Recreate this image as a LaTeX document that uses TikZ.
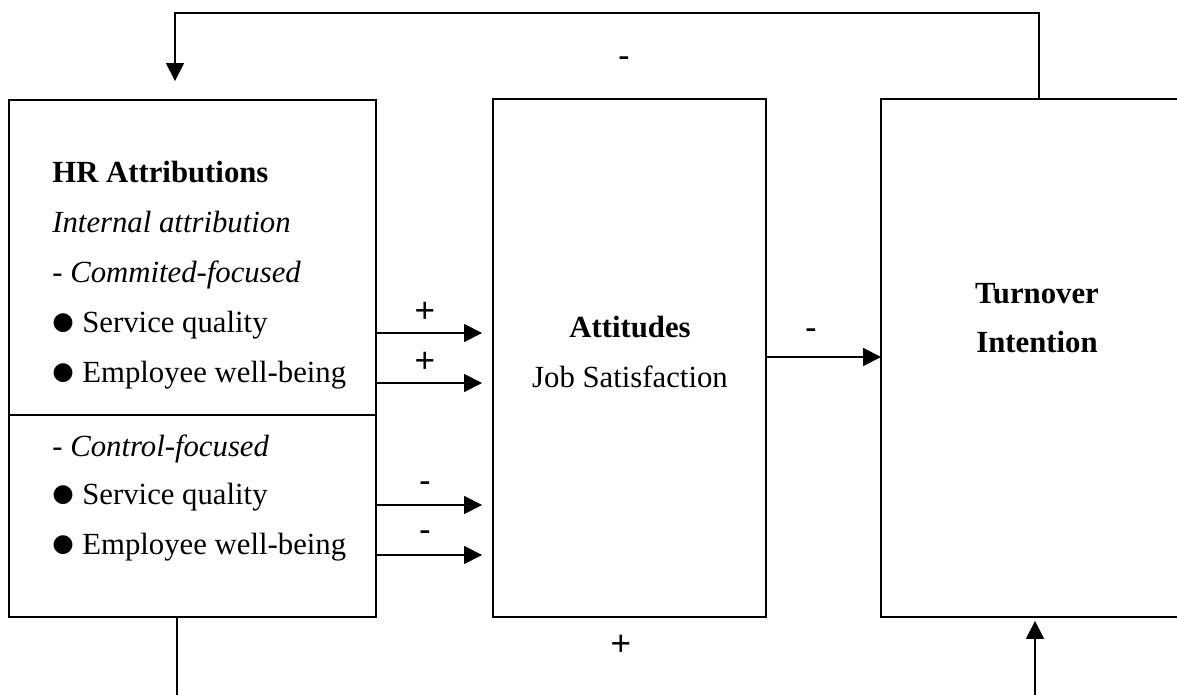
\documentclass[tikz,border=0pt]{standalone}
\usepackage{fontspec}
\setmainfont{Liberation Serif}
\newfontfamily\signfont{Liberation Sans}
\newfontfamily\dotfont{DejaVu Sans}
\usetikzlibrary{arrows.meta}
\newcommand{\boxsize}{\fontsize{17.5}{21}\selectfont}
\newcommand{\blob}{\makebox[0.6cm][l]{\raisebox{1.8pt}{\dotfont\fontsize{14}{14}\selectfont ●}}}

\begin{document}
\begin{tikzpicture}
	[x=0.02cm, y=-0.02cm,
	box/.style={draw, line width=1pt, rectangle, inner sep=0pt, outer sep=0pt},
	txt/.style={anchor=base west, inner sep=0pt, font=\boxsize},
	ctxt/.style={txt, anchor=base},
	sign/.style={inner sep=0pt, font=\signfont\fontsize{20}{20}\selectfont},
	link/.style={line width=1pt, -{Triangle[length=0.36cm, width=0.36cm]}}]
	\useasboundingbox (0,0) rectangle (1177,695);

	% boxes
	\node[box, minimum width=7.34cm, minimum height=6.30cm] (hrtop) at (192.5,257.5) {};
	\node[box, minimum width=7.34cm, minimum height=4.04cm] (hrbot) at (192.5,516) {};
	\node[box, minimum width=5.46cm, minimum height=10.36cm] (att) at (629.5,358) {};
	\node[box, minimum width=6.24cm, minimum height=10.36cm] (turn) at (1037,358) {};

	% left box text
	\node[txt, font=\boxsize\bfseries] (hrtitle) at (52,183) {HR Attributions};
	\node[txt, font=\boxsize\itshape] (internal) at (52,233) {Internal attribution};
	\node[txt, font=\boxsize\itshape] (commit) at (52,283) {- Commited-focused};
	\node[txt] (sq1) at (52,333) {\blob Service quality};
	\node[txt] (wb1) at (52,383) {\blob Employee well-being};
	\node[txt, font=\boxsize\itshape] (control) at (52,457) {- Control-focused};
	\node[txt] (sq2) at (52,505) {\blob Service quality};
	\node[txt] (wb2) at (52,555) {\blob Employee well-being};

	% middle and right text
	\node[ctxt, font=\boxsize\bfseries] (atttitle) at (630,338) {Attitudes};
	\node[ctxt] (jobsat) at (630,388) {Job Satisfaction};
	\node[ctxt, font=\boxsize\bfseries] (turntitle) at (1037,304) {Turnover};
	\node[ctxt, font=\boxsize\bfseries] (intent) at (1037,353) {Intention};

	% signs
	\node[sign] (p1) at (425,312) {+};
	\node[sign] (p2) at (425,362) {+};
	\node[sign] (m1) at (425,487) {-};
	\node[sign] (m2) at (425,536) {-};
	\node[sign] (m3) at (811,334) {-};
	\node[sign] (mtop) at (624,62) {-};
	\node[sign] (pbot) at (621,645) {+};

	\coordinate (lowleft) at (177,740);

	\draw[link, shorten >=0.22cm] (sq1.base -| hrtop.east) -- (sq1.base -| att.west);
	\draw[link, shorten >=0.22cm] (wb1.base -| hrtop.east) -- (wb1.base -| att.west);
	\draw[link, shorten >=0.22cm] (sq2.base -| hrbot.east) -- (sq2.base -| att.west);
	\draw[link, shorten >=0.22cm] (wb2.base -| hrbot.east) -- (wb2.base -| att.west);
	\draw[link] (att.east |- 0,357) -- (turn.west |- 0,357);

	\draw[link, shorten >=0.38cm] ([xshift=0.04cm]turn.north) -- ++(0,-86) -| ([xshift=-0.35cm]hrtop.north);
	\draw[link, shorten >=0.08cm] ([xshift=-0.31cm]hrbot.south) -- (lowleft) -| ([xshift=-0.04cm]turn.south);
\end{tikzpicture}
\end{document}
